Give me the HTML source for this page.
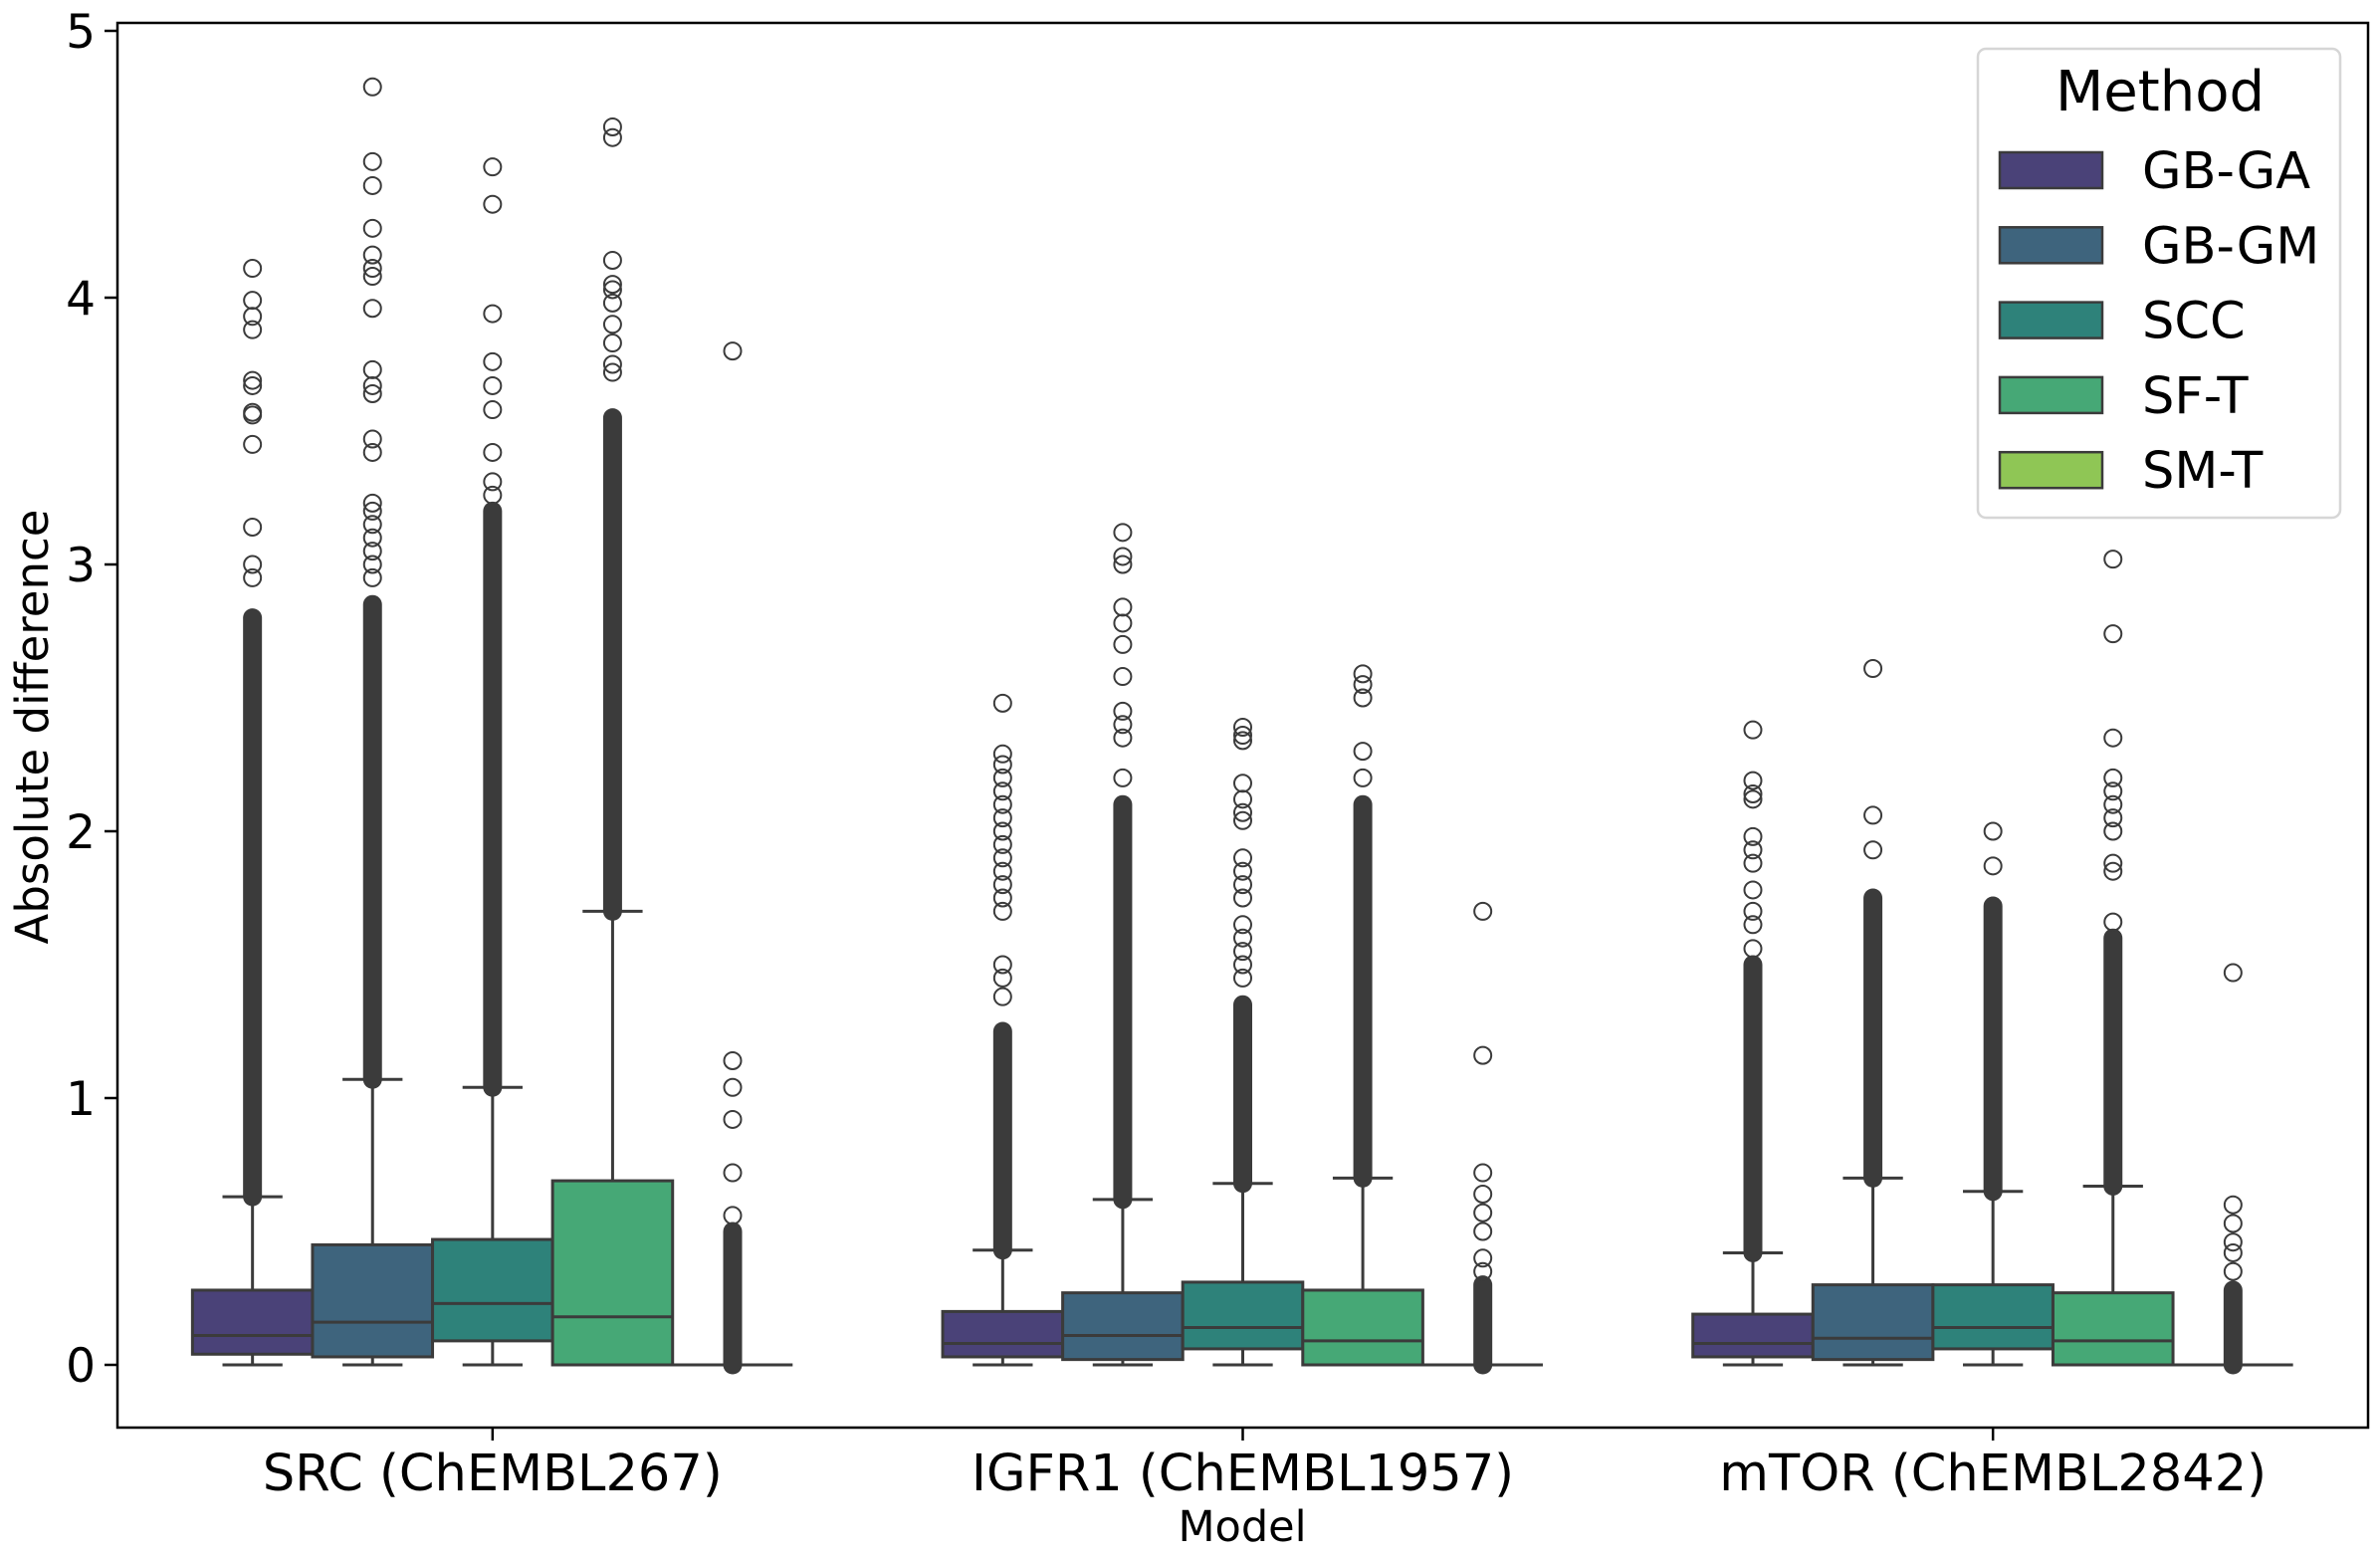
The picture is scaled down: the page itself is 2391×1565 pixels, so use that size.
<!DOCTYPE html>
<html><head><meta charset="utf-8"><style>
html,body{margin:0;padding:0;background:#fff}
svg text{font-family:"DejaVu Sans","Liberation Sans",sans-serif;fill:#000}
</style></head><body>
<svg id="chart" width="2391" height="1560" viewBox="0 0 2391 1560" xmlns="http://www.w3.org/2000/svg">
<rect width="2391" height="1560" fill="#fff"/>
<g id="marks"></g>
<rect x="118" y="23" width="2261" height="1411" fill="none" stroke="#000" stroke-width="2.5"/>
<g id="axes"></g>
<text x="0" y="0" transform="translate(48,730) rotate(-90)" text-anchor="middle" font-size="45">Absolute difference</text>
<text x="1248" y="1548" text-anchor="middle" font-size="43">Model</text>
<g>
<rect x="1987" y="49" width="364" height="471" rx="8" fill="#fff" fill-opacity="0.8" stroke="#d6d6d6" stroke-width="2.5"/>
<text x="2170" y="111" text-anchor="middle" font-size="56">Method</text>
<g id="legend-entries"></g>
</g>
</svg>
<script>
const categories = ["SRC (ChEMBL267)", "IGFR1 (ChEMBL1957)", "mTOR (ChEMBL2842)"];
const methods = ["GB-GA", "GB-GM", "SCC", "SF-T", "SM-T"];
const colors = ["#4a4278", "#3e647d", "#2e827a", "#46a876", "#8fc655"];
const yTicks = [0, 1, 2, 3, 4, 5];
// [category][method] = [whiskerLow, q1, median, q3, whiskerHigh]
const boxStats = [
  [[0,0.04,0.11,0.28,0.63],[0,0.03,0.16,0.45,1.07],[0,0.09,0.23,0.47,1.04],[0,0,0.18,0.69,1.70],[0,0,0,0,0]],
  [[0,0.03,0.08,0.20,0.43],[0,0.02,0.11,0.27,0.62],[0,0.06,0.14,0.31,0.68],[0,0,0.09,0.28,0.70],[0,0,0,0,0]],
  [[0,0.03,0.08,0.19,0.42],[0,0.02,0.10,0.30,0.70],[0,0.06,0.14,0.30,0.65],[0,0,0.09,0.27,0.67],[0,0,0,0,0]]
];
// dense outlier band [from, to]
const denseOutliers = [
  [[0.63,2.8],[1.07,2.85],[1.04,3.2],[1.70,3.55],[0,0.5]],
  [[0.43,1.25],[0.62,2.1],[0.68,1.35],[0.70,2.1],[0,0.3]],
  [[0.42,1.5],[0.70,1.75],[0.65,1.72],[0.67,1.6],[0,0.28]]
];
const sparseOutliers = [
  [[2.95,3.0,3.14,3.45,3.56,3.57,3.67,3.69,3.88,3.93,3.99,4.11],
   [2.95,3.0,3.05,3.1,3.15,3.2,3.23,3.42,3.47,3.64,3.67,3.73,3.96,4.08,4.11,4.16,4.26,4.42,4.51,4.79],
   [3.26,3.31,3.42,3.58,3.67,3.76,3.94,4.35,4.49],
   [3.72,3.75,3.83,3.9,3.98,4.03,4.05,4.14,4.6,4.64],
   [0.56,0.72,0.92,1.04,1.14,3.8]],
  [[1.38,1.45,1.5,1.7,1.75,1.8,1.85,1.9,1.95,2.0,2.05,2.1,2.15,2.2,2.25,2.29,2.48],
   [2.2,2.35,2.4,2.45,2.58,2.7,2.78,2.84,3.0,3.03,3.12],
   [1.45,1.5,1.55,1.6,1.65,1.75,1.8,1.85,1.9,2.04,2.07,2.12,2.18,2.34,2.36,2.39],
   [2.2,2.3,2.5,2.55,2.59],
   [0.35,0.4,0.5,0.57,0.64,0.72,1.16,1.70]],
  [[1.56,1.65,1.7,1.78,1.88,1.93,1.98,2.12,2.14,2.19,2.38],
   [1.93,2.06,2.61],
   [1.87,2.0],
   [1.66,1.85,1.88,2.0,2.05,2.1,2.15,2.2,2.35,2.74,3.02],
   [0.35,0.42,0.46,0.53,0.6,1.47]]
];

const NS = "http://www.w3.org/2000/svg";
const X0 = 118, X1 = 2379, Y0 = 1371, YUNIT = 268;
const catStep = (X1 - X0) / categories.length;
function xCat(i){ return X0 + catStep * (i + 0.5); }
function yVal(v){ return Y0 - v * YUNIT; }
const groupW = catStep * 0.8, boxW = groupW / methods.length;
function xBox(c, m){ return xCat(c) - groupW/2 + boxW*(m + 0.5); }
function mk(tag, attrs, parent){ const e = document.createElementNS(NS, tag); for (const k in attrs) e.setAttribute(k, attrs[k]); parent.appendChild(e); return e; }
const marks = document.getElementById("marks");
const axes = document.getElementById("axes");
const LC = "#3b3b3b";

categories.forEach((cat, c) => {
  methods.forEach((m, k) => {
    const g = mk("g", {}, marks);
    
    
    const s = boxStats[c][k], cx = xBox(c, k);
    mk("line", {x1:cx, x2:cx, y1:yVal(s[3]), y2:yVal(s[4]), stroke:LC, "stroke-width":3}, g);
    mk("line", {x1:cx, x2:cx, y1:yVal(s[1]), y2:yVal(s[0]), stroke:LC, "stroke-width":3}, g);
    mk("line", {x1:cx-boxW/4, x2:cx+boxW/4, y1:yVal(s[4]), y2:yVal(s[4]), stroke:LC, "stroke-width":3}, g);
    mk("line", {x1:cx-boxW/4, x2:cx+boxW/4, y1:yVal(s[0]), y2:yVal(s[0]), stroke:LC, "stroke-width":3}, g);
    const h = yVal(s[1]) - yVal(s[3]);
    mk("rect", {x:cx-boxW/2, y:yVal(s[3]), width:boxW, height:Math.max(h,0), fill:colors[k], stroke:LC, "stroke-width":3}, g);
    mk("line", {x1:cx-boxW/2, x2:cx+boxW/2, y1:yVal(s[2]), y2:yVal(s[2]), stroke:LC, "stroke-width":3}, g);
    const d = denseOutliers[c][k];
    const dl = mk("line", {x1:cx, x2:cx, y1:yVal(d[0]), y2:yVal(d[1]), stroke:LC, "stroke-width":19, "stroke-linecap":"round"}, g);
    
    
    sparseOutliers[c][k].forEach(v => {
      const o = mk("circle", {cx:cx, cy:yVal(v), r:8.5, fill:"none", stroke:LC, "stroke-width":2}, g);
      
      
    });
  });
  const t = mk("line", {x1:xCat(c), x2:xCat(c), y1:1434, y2:1447, stroke:"#000", "stroke-width":2.5}, axes);
  
  
  const lb = mk("text", {x:xCat(c), y:1497, "text-anchor":"middle", "font-size":51}, axes);
  lb.textContent = cat;
  
  
});
yTicks.forEach(v => {
  const t = mk("line", {x1:105, x2:118, y1:yVal(v), y2:yVal(v), stroke:"#000", "stroke-width":2.5}, axes);
  
  
  const lb = mk("text", {x:96, y:yVal(v)+17, "text-anchor":"end", "font-size":47}, axes);
  lb.textContent = String(v);
  
  
});
const le = document.getElementById("legend-entries");
methods.forEach((m, k) => {
  const cy = 171 + k * 75.3;
  const r = mk("rect", {x:2009, y:cy-18, width:103, height:36, fill:colors[k], stroke:LC, "stroke-width":2.5}, le);
  
  
  const t = mk("text", {x:2152, y:cy+18, "font-size":51}, le);
  t.textContent = m;
  
  
});
</script>
</body></html>
